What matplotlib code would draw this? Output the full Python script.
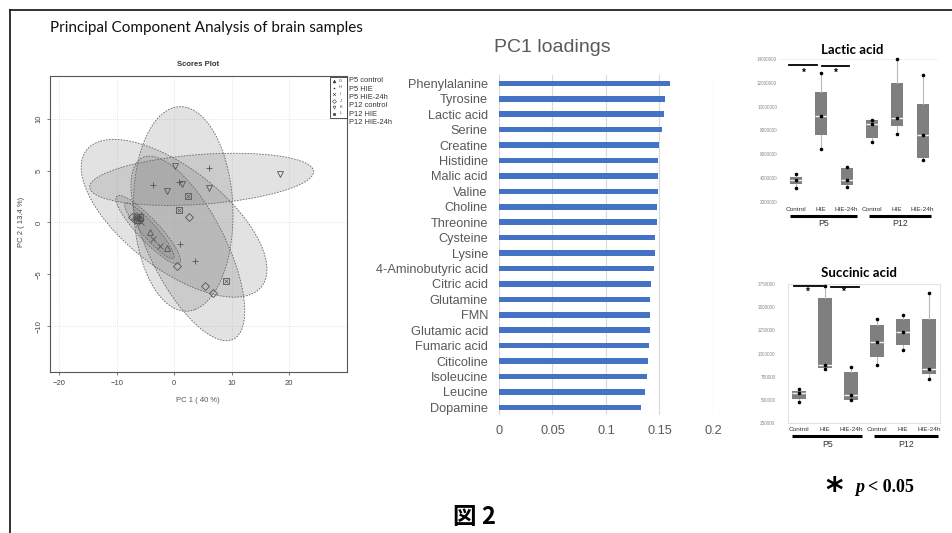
import numpy as np
import matplotlib.pyplot as plt
from matplotlib.patches import Ellipse, Rectangle
from matplotlib.lines import Line2D

plt.rcParams['font.family'] = ['Liberation Sans', 'DejaVu Sans']

W, H = 953, 533


def fx(px):
    return px / W


def fy(py):
    return 1 - py / H


def box(l, t, r, b):
    return [fx(l), fy(b), (r - l) / W, (b - t) / H]


# ---- scores plot data ----
groups = ['P5 control', 'P5 HIE', 'P5 HIE-24h', 'P12 control', 'P12 HIE', 'P12 HIE-24h']
group_codes = ['G', 'H', 'I', 'J', 'K', 'L']
pc1 = [
    [-6.8, -6.3, -6.0, -4.2, -1.3],
    [6.1, -3.6, 0.8, 1.0, 3.6],
    [-6.6, -6.1, -5.7, -3.6, -2.5],
    [-7.4, 2.6, 0.5, 5.4, 6.7],
    [0.2, 1.3, -1.3, 6.0, 18.4],
    [-6.4, -6.0, 0.8, 2.5, 9.0],
]
pc2 = [
    [0.6, 0.2, 0.4, -0.9, -2.5],
    [5.2, 3.6, 3.9, -2.1, -3.7],
    [0.3, 0.7, 0.0, -1.6, -2.3],
    [0.5, 0.5, -4.2, -6.1, -6.8],
    [5.4, 3.7, 3.0, 3.3, 4.7],
    [0.2, 0.5, 1.2, 2.5, -5.6],
]
# 95% regions: centre, half widths, angle
ell_cx = [-4.5, 1.6, -4.3, 2.4, 4.8, 0.0]
ell_cy = [-0.7, 1.3, -0.8, -2.5, 4.15, 0.4]
ell_a = [6.4, 8.6, 5.0, 12.2, 19.5, 17.0]
ell_b = [1.3, 9.9, 0.9, 5.3, 2.4, 5.5]
ell_ang = [-29, 12, -31, -40.5, 2.2, -19]
markers = ['^', '+', 'x', 'D', 'v', 's']

# ---- PC1 loadings ----
metabolites = ['Phenylalanine', 'Tyrosine', 'Lactic acid', 'Serine', 'Creatine',
               'Histidine', 'Malic acid', 'Valine', 'Choline', 'Threonine',
               'Cysteine', 'Lysine', '4-Aminobutyric acid', 'Citric acid',
               'Glutamine', 'FMN', 'Glutamic acid', 'Fumaric acid', 'Citicoline',
               'Isoleucine', 'Leucine', 'Dopamine']
loadings = [0.160, 0.155, 0.154, 0.152, 0.150, 0.149, 0.149, 0.149, 0.148,
            0.148, 0.146, 0.146, 0.145, 0.142, 0.141, 0.141, 0.141, 0.140,
            0.139, 0.138, 0.136, 0.133]

# ---- box plots ----
box_labels = ['Control', 'HIE', 'HIE-24h', 'Control', 'HIE', 'HIE-24h']
ages = ['P5', 'P12']
lactic_lo = [3.17e6, 6.45e6, 3.23e6, 7.03e6, 7.73e6, 5.55e6]
lactic_q1 = [3.51e6, 7.62e6, 3.40e6, 7.34e6, 8.35e6, 5.72e6]
lactic_med = [3.82e6, 9.19e6, 3.82e6, 8.55e6, 9.05e6, 7.65e6]
lactic_q3 = [4.13e6, 11.2e6, 4.85e6, 8.85e6, 12.0e6, 10.22e6]
lactic_hi = [4.32e6, 12.83e6, 4.90e6, 8.90e6, 14.0e6, 12.63e6]
succ_lo = [0.473e6, 0.829e6, 0.494e6, 0.879e6, 1.041e6, 0.728e6]
succ_q1 = [0.509e6, 0.843e6, 0.494e6, 0.959e6, 1.095e6, 0.779e6]
succ_med = [0.570e6, 0.879e6, 0.556e6, 1.120e6, 1.232e6, 0.833e6]
succ_q3 = [0.599e6, 1.599e6, 0.800e6, 1.308e6, 1.372e6, 1.372e6]
succ_hi = [0.613e6, 1.725e6, 0.858e6, 1.376e6, 1.419e6, 1.649e6]

fig = plt.figure(figsize=(9.53, 5.33), dpi=100)

# frame lines of the slide
fig.add_artist(Line2D([fx(10), 1], [fy(10), fy(10)], color='#222222', lw=1.3))
fig.add_artist(Line2D([fx(10), fx(10)], [fy(10), 0], color='#222222', lw=1.3))
fig.text(fx(50), fy(28), 'Principal Component Analysis of brain samples',
         family=['Lato', 'DejaVu Sans'], fontsize=11, va='center', color='#111111')

# ================= scores plot =================
ax = fig.add_axes(box(50, 76, 347, 372))
for v in [-20, -10, 0, 10, 20]:
    ax.axvline(v, color='#dddddd', lw=0.6, ls=(0, (1, 1.5)), zorder=0)
for v in [-10, 0, 10]:
    ax.axhline(v, color='#dddddd', lw=0.6, ls=(0, (1, 1.5)), zorder=0)
for i in range(len(groups)):
    e = Ellipse((ell_cx[i], ell_cy[i]), 2 * ell_a[i], 2 * ell_b[i], angle=ell_ang[i],
                facecolor='#7a7a7a', alpha=0.21, edgecolor='none', zorder=1)
    ax.add_patch(e)
    e2 = Ellipse((ell_cx[i], ell_cy[i]), 2 * ell_a[i], 2 * ell_b[i], angle=ell_ang[i],
                 facecolor='none', edgecolor='#666666', lw=0.6, ls=(0, (2, 1.5)), zorder=2)
    ax.add_patch(e2)
for i in range(len(groups)):
    ax.plot(pc1[i], pc2[i], ls='none', marker=markers[i], ms=4.2, mfc='none',
            mec='#555555', mew=0.6, zorder=3)
    if i == 5:
        ax.plot(pc1[i], pc2[i], ls='none', marker='x', ms=3.2, mec='#555555',
                mew=0.5, zorder=3)
ax.set_xlim(-21.6, 30.1)
ax.set_ylim(-14.4, 14.1)
ax.set_xticks([-20, -10, 0, 10, 20])
ax.set_yticks([-10, -5, 0, 5, 10])
ax.tick_params(labelsize=5.5, length=2.5, width=0.5, colors='#444444', pad=3)
for lab in ax.get_yticklabels():
    lab.set_rotation(90)
    lab.set_va('center')
for s in ax.spines.values():
    s.set_color('#555555')
    s.set_linewidth(0.8)
fig.text(fx(198), fy(64), 'Scores Plot', fontsize=5.5, weight='bold',
         ha='center', va='center', color='#333333')
fig.text(fx(198), fy(400), 'PC 1 ( 40 %)', fontsize=5.5, ha='center',
         va='center', color='#4a5a6a')
fig.text(fx(22), fy(222), 'PC 2 ( 13.4 %)', fontsize=5.5, ha='center',
         va='center', rotation=90, color='#444444')

# legend box
fig.add_artist(Rectangle((fx(330), fy(118)), 17 / W, 41 / H, transform=fig.transFigure,
                         facecolor='white', edgecolor='#333333', lw=0.6, zorder=5))
for i in range(len(groups)):
    ry = 81 + i * 6.5
    fig.add_artist(Line2D([fx(334.5)], [fy(ry)], marker=markers[i], ms=2,
                          mfc='#333333' if markers[i] in ('^', 's') else 'none',
                          mec='#333333', mew=0.4, ls='none', zorder=6))
    fig.text(fx(340.5), fy(ry), group_codes[i], fontsize=2.8, va='center',
             ha='center', color='#333333', zorder=6)
    fig.text(fx(349), fy(80.7 + i * 8.4), groups[i], fontsize=5.4, va='center',
             color='#333333')

# ================= PC1 loadings =================
ax2 = fig.add_axes(box(499, 75, 713, 415))
ypos = np.arange(len(metabolites))
ax2.barh(ypos, loadings, height=0.36, color='#4472C4', zorder=3)
ax2.set_ylim(len(metabolites) - 0.5, -0.54)
ax2.set_xlim(0, 0.2)
ax2.set_yticks(ypos, metabolites)
ax2.set_xticks([0, 0.05, 0.1, 0.15, 0.2], ['0', '0.05', '0.1', '0.15', '0.2'])
ax2.grid(axis='x', color='#d9d9d9', lw=0.8, zorder=0)
ax2.tick_params(axis='y', length=0, pad=8, labelsize=9.2, colors='#595959')
ax2.tick_params(axis='x', length=0, pad=7, labelsize=9.2, colors='#595959')
for s in ax2.spines.values():
    s.set_visible(False)
fig.text(fx(552), fy(47), 'PC1 loadings', fontsize=14, ha='center', va='center',
         color='#595959')

# ================= box plots =================
pos = np.arange(6)


def boxpanel(rect, lo, q1, med, q3, hi, xlim, ylim, yticks, ylabels, title, title_xy,
             width, sig_lines, sig_stars, ylab_pad, lab_y, line_y, age_y, framed):
    axb = fig.add_axes(rect)
    stats = [dict(med=med[k], q1=q1[k], q3=q3[k], whislo=lo[k], whishi=hi[k], fliers=[])
             for k in range(len(med))]
    axb.bxp(stats, positions=pos, widths=width, patch_artist=True, showcaps=False,
            boxprops=dict(facecolor='#7f7f7f', edgecolor='none'),
            medianprops=dict(color='#f2f2f2', lw=1.0),
            whiskerprops=dict(color='#b8b8b8', lw=0.8))
    for vals in (lo, med, hi):
        axb.scatter(pos, vals, s=2.5, color='black', zorder=4, clip_on=False)
    axb.set_xlim(*xlim)
    axb.set_ylim(*ylim)
    axb.set_yticks(yticks, ylabels)
    axb.set_xticks([])
    axb.tick_params(axis='y', length=0, pad=ylab_pad, labelsize=3.3, colors='#8a8a8a')
    for s in axb.spines.values():
        s.set_visible(framed)
        s.set_color('#dcdcdc')
        s.set_linewidth(0.6)
    if not framed:
        axb.spines['top'].set_visible(True)
        axb.spines['top'].set_color('#eeeeee')
    tr = axb.get_xaxis_transform()
    for (x0, x1, yy) in sig_lines:
        axb.plot([x0, x1], [yy, yy], color='black', lw=1.3, clip_on=False)
    for (xs, ys) in sig_stars:
        axb.text(xs, ys, '*', fontsize=7, ha='center', va='center', weight='bold')
    for k in range(len(box_labels)):
        axb.text(pos[k], lab_y, box_labels[k], transform=tr, fontsize=4.6,
                 ha='center', va='center', color='#333333')
    for g, (a0, a1) in enumerate([(pos[0] - 0.25, pos[2] + 0.42),
                                  (pos[3] - 0.12, pos[5] + 0.35)]):
        axb.plot([a0, a1], [line_y, line_y], transform=tr, color='black', lw=2.2,
                 clip_on=False, solid_capstyle='butt')
        axb.text((a0 + a1) / 2, age_y, ages[g], transform=tr, fontsize=6.3,
                 ha='center', va='center', color='#333333')
    fig.text(fx(title_xy[0]), fy(title_xy[1]), title, fontsize=9.5, weight='bold',
             ha='center', va='center', family=['Lato', 'DejaVu Sans'])
    return axb


lac_ticks = np.arange(2e6, 14.1e6, 2e6)
boxpanel(box(780, 59, 937, 202), lactic_lo, lactic_q1, lactic_med, lactic_q3, lactic_hi,
         (-0.63, 5.57), (2e6, 14e6), lac_ticks, ['%d' % v for v in lac_ticks],
         'Lactic acid', (852, 50), 0.47,
         [(-0.27, 0.84, 13.52e6), (1.02, 2.11, 13.38e6)],
         [(0.32, 12.85e6), (1.58, 12.85e6)],
         2, -0.055, -0.1, -0.153, False)

suc_ticks = np.arange(0.25e6, 1.76e6, 0.25e6)
boxpanel(box(788, 284, 940, 423), succ_lo, succ_q1, succ_med, succ_q3, succ_hi,
         (-0.42, 5.42), (0.25e6, 1.75e6), suc_ticks, ['%d' % v for v in suc_ticks],
         'Succinic acid', (859, 273), 0.52,
         [(-0.19, 0.93, 1.732e6), (1.22, 2.31, 1.718e6)],
         [(0.36, 1.665e6), (1.74, 1.665e6)],
         9, -0.045, -0.097, -0.152, True)

# p-value note and figure number
fig.text(fx(834), fy(492), '*', fontsize=24, weight='bold', ha='center', va='center',
         family=['DejaVu Sans'])
fig.text(fx(855), fy(488), 'p', fontsize=13, style='italic', weight='bold',
         va='center', family=['Liberation Serif'])
fig.text(fx(868), fy(488), '< 0.05', fontsize=13, weight='bold', va='center',
         family=['Liberation Serif'])
fig.text(fx(475), fy(517), '図 2', fontsize=17, weight='bold', ha='center',
         va='center', family=['Noto Sans CJK JP', 'DejaVu Sans'])

fig.savefig('out.png', dpi=100)
